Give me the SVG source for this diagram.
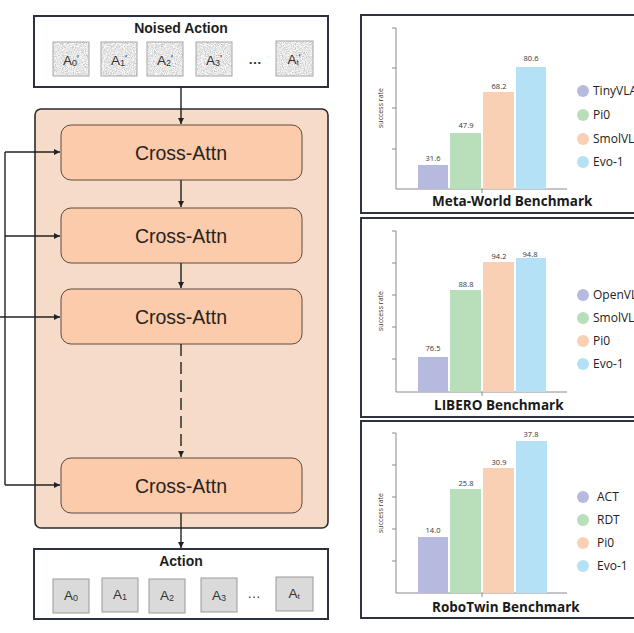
<svg xmlns="http://www.w3.org/2000/svg" width="634" height="633" viewBox="0 0 634 633">
<defs>
<style>
.frame{fill:#fff;stroke:#2b3140;stroke-width:2}
.ttl{font-family:"Liberation Sans",Arial,sans-serif;font-weight:bold;font-size:14px;fill:#1e1e1e;text-anchor:middle}
.tok{font-family:"Liberation Sans",Arial,sans-serif;font-size:13.5px;fill:#333;text-anchor:middle}
.act{fill:#dadada;stroke:#9a9a9a;stroke-width:1}
.ca rect{fill:#fbcbab;stroke:#5e4a3e;stroke-width:1}
.ca text{font-family:"Liberation Sans",Arial,sans-serif;font-size:19.5px;fill:#2a2320;text-anchor:middle}
.ln{stroke:#222;stroke-width:1.4;fill:none}
.panel{fill:#fff;stroke:#2f3340;stroke-width:2}
.ax{stroke:#8a8a8a;stroke-width:1;fill:none}
.val{font-family:"Open Sans","Noto Sans",sans-serif;font-size:7.5px;fill:#333;text-anchor:middle}
.yl{font-family:"Open Sans","Noto Sans",sans-serif;font-size:7px;fill:#333;text-anchor:middle}
.lg{font-family:"Open Sans","Noto Sans",sans-serif;font-size:12px;fill:#222}
.bt{font-family:"Open Sans","Noto Sans",sans-serif;font-weight:bold;font-size:13.5px;fill:#1a1a1a}
.c1{fill:#b6badf}.c2{fill:#b9deba}.c3{fill:#f9d0b4}.c4{fill:#b5e1f7}
</style>
<marker id="ah" viewBox="0 0 10 10" refX="10" refY="5" markerWidth="6" markerHeight="6" markerUnits="userSpaceOnUse" orient="auto">
<path d="M0,0 L10,5 L0,10 z" fill="#222"/>
</marker>
<filter id="noise" x="0" y="0" width="100%" height="100%">
<feTurbulence type="fractalNoise" baseFrequency="1.1" numOctaves="2" seed="3" result="t"/>
<feColorMatrix in="t" type="matrix" values="0.9 0 0 0 0.34  0.9 0 0 0 0.34  0.9 0 0 0 0.34  0 0 0 0 1" result="g"/>
<feComposite in="g" in2="SourceGraphic" operator="in"/>
</filter>
</defs>
<rect width="634" height="633" fill="#fff"/>

<!-- Noised Action -->
<g id="noised-action">
<rect class="frame" x="34" y="16" width="294" height="71"/>
<text class="ttl" x="181" y="33">Noised Action</text>
<g filter="url(#noise)">
<rect x="53" y="42" width="36" height="34" fill="#ccc"/>
<rect x="101" y="42" width="36" height="34" fill="#ccc"/>
<rect x="147" y="42" width="36" height="34" fill="#ccc"/>
<rect x="196" y="42" width="36" height="34" fill="#ccc"/>
<rect x="276" y="41" width="37" height="35" fill="#ccc"/>
</g>
<g fill="none" stroke="#a8a8a8" stroke-width="1">
<rect x="53" y="42" width="36" height="34"/>
<rect x="101" y="42" width="36" height="34"/>
<rect x="147" y="42" width="36" height="34"/>
<rect x="196" y="42" width="36" height="34"/>
<rect x="276" y="41" width="37" height="35"/>
</g>
<text class="tok" x="71" y="65">A<tspan font-size="9" dy="1">0</tspan><tspan font-size="10" dy="-3">'</tspan></text>
<text class="tok" x="119" y="65">A<tspan font-size="9" dy="1">1</tspan><tspan font-size="10" dy="-3">'</tspan></text>
<text class="tok" x="165" y="65">A<tspan font-size="9" dy="1">2</tspan><tspan font-size="10" dy="-3">'</tspan></text>
<text class="tok" x="214" y="65">A<tspan font-size="9" dy="1">3</tspan><tspan font-size="10" dy="-3">'</tspan></text>
<text class="tok" x="255" y="64" font-weight="bold">…</text>
<text class="tok" x="294" y="64">A<tspan font-size="8" dy="1">t</tspan><tspan font-size="10" dy="-3">'</tspan></text>
</g>

<!-- Transformer block -->
<g id="decoder-block">
<rect x="35" y="109" width="293" height="419" rx="6" fill="#f5dbc8" stroke="#2b2b2b" stroke-width="1.6"/>
</g>
<g id="cross-attn-1" class="ca"><rect x="61" y="125" width="241" height="55" rx="10"/><text x="181" y="160">Cross-Attn</text></g>
<g id="cross-attn-2" class="ca"><rect x="61" y="208" width="241" height="55" rx="10"/><text x="181" y="243">Cross-Attn</text></g>
<g id="cross-attn-3" class="ca"><rect x="61" y="289" width="241" height="55" rx="10"/><text x="181" y="324">Cross-Attn</text></g>
<g id="cross-attn-n" class="ca"><rect x="61" y="458" width="241" height="55" rx="10"/><text x="181" y="493">Cross-Attn</text></g>

<!-- Action -->
<g id="action">
<rect class="frame" x="34" y="549" width="294" height="70"/>
<text class="ttl" x="181" y="566">Action</text>
<rect class="act" x="53" y="579" width="36" height="34"/>
<rect class="act" x="102" y="578" width="36" height="34"/>
<rect class="act" x="149" y="579" width="36" height="34"/>
<rect class="act" x="201" y="578" width="36" height="34"/>
<rect class="act" x="276" y="577" width="37" height="34"/>
<text class="tok" x="71" y="600">A<tspan font-size="9" dy="1">0</tspan></text>
<text class="tok" x="120" y="599">A<tspan font-size="9" dy="1">1</tspan></text>
<text class="tok" x="167" y="600">A<tspan font-size="9" dy="1">2</tspan></text>
<text class="tok" x="219" y="600">A<tspan font-size="9" dy="1">3</tspan></text>
<text class="tok" x="254" y="598" font-size="9">…</text>
<text class="tok" x="294" y="598">A<tspan font-size="8" dy="1">t</tspan></text>
</g>

<!-- Connectors -->
<g id="connectors">
<path class="ln" d="M181,87 V124" marker-end="url(#ah)"/>
<path class="ln" d="M181,180 V207" marker-end="url(#ah)"/>
<path class="ln" d="M181,263 V288" marker-end="url(#ah)"/>
<path class="ln" d="M181,344 V457" stroke-dasharray="12,6" marker-end="url(#ah)"/>
<path class="ln" d="M181,513 V548" marker-end="url(#ah)"/>
<path class="ln" d="M5,152 V485"/>
<path class="ln" d="M5,152 H60" marker-end="url(#ah)"/>
<path class="ln" d="M5,236 H60" marker-end="url(#ah)"/>
<path class="ln" d="M0,317 H60" marker-end="url(#ah)"/>
<path class="ln" d="M5,485 H60" marker-end="url(#ah)"/>
</g>

<!-- Meta-World chart -->
<g id="chart-metaworld">
<rect class="panel" x="361" y="15" width="285" height="198"/>
<path class="ax" d="M396,28 V189 H567 M392,28 H396 M392,68 H396 M392,108 H396 M392,149 H396 M482,189 V193"/>
<text class="yl" transform="translate(383,108) rotate(-90)">success rate</text>
<rect class="c1" x="418" y="165" width="30" height="24"/>
<rect class="c2" x="450" y="133" width="31" height="56"/>
<rect class="c3" x="483" y="92" width="31" height="97"/>
<rect class="c4" x="516" y="67" width="30" height="122"/>
<text class="val" x="433" y="161">31.6</text>
<text class="val" x="466" y="128">47.9</text>
<text class="val" x="499" y="89">68.2</text>
<text class="val" x="531" y="61">80.6</text>
<circle class="c1" cx="583" cy="91" r="6"/>
<circle class="c2" cx="583" cy="115" r="6"/>
<circle class="c3" cx="583" cy="139" r="6"/>
<circle class="c4" cx="583" cy="162" r="6"/>
<text class="lg" x="593" y="95">TinyVLA</text>
<text class="lg" x="593" y="119">Pi0</text>
<text class="lg" x="593" y="143">SmolVLA</text>
<text class="lg" x="593" y="166">Evo-1</text>
<text class="bt" x="432" y="206">Meta-World Benchmark</text>
</g>

<!-- LIBERO chart -->
<g id="chart-libero">
<rect class="panel" x="361" y="218" width="285" height="199"/>
<path class="ax" d="M396,231 V392 H567 M392,231 H396 M392,263 H396 M392,295 H396 M392,327 H396 M392,359 H396 M482,392 V396"/>
<text class="yl" transform="translate(383,311) rotate(-90)">success rate</text>
<rect class="c1" x="418" y="357" width="30" height="35"/>
<rect class="c2" x="450" y="290" width="31" height="102"/>
<rect class="c3" x="483" y="262" width="31" height="130"/>
<rect class="c4" x="516" y="258" width="30" height="134"/>
<text class="val" x="433" y="351">76.5</text>
<text class="val" x="466" y="287">88.8</text>
<text class="val" x="499" y="259">94.2</text>
<text class="val" x="530" y="257">94.8</text>
<circle class="c1" cx="583" cy="295" r="6"/>
<circle class="c2" cx="583" cy="318" r="6"/>
<circle class="c3" cx="583" cy="341" r="6"/>
<circle class="c4" cx="583" cy="364" r="6"/>
<text class="lg" x="593" y="299">OpenVLA</text>
<text class="lg" x="593" y="322">SmolVLA</text>
<text class="lg" x="593" y="345">Pi0</text>
<text class="lg" x="593" y="368">Evo-1</text>
<text class="bt" x="434" y="410">LIBERO Benchmark</text>
</g>

<!-- RoboTwin chart -->
<g id="chart-robotwin">
<rect class="panel" x="361" y="421" width="285" height="197"/>
<path class="ax" d="M396,433 V593 H567 M392,433 H396 M392,465 H396 M392,497 H396 M392,529 H396 M392,561 H396 M482,593 V597"/>
<text class="yl" transform="translate(383,513) rotate(-90)">success rate</text>
<rect class="c1" x="418" y="537" width="30" height="56"/>
<rect class="c2" x="450" y="489" width="31" height="104"/>
<rect class="c3" x="483" y="468" width="31" height="125"/>
<rect class="c4" x="516" y="441" width="31" height="152"/>
<text class="val" x="433" y="533">14.0</text>
<text class="val" x="466" y="486">25.8</text>
<text class="val" x="499" y="465">30.9</text>
<text class="val" x="531" y="437">37.8</text>
<circle class="c1" cx="583" cy="497" r="6"/>
<circle class="c2" cx="583" cy="520" r="6"/>
<circle class="c3" cx="583" cy="543" r="6"/>
<circle class="c4" cx="583" cy="566" r="6"/>
<text class="lg" x="597" y="501" font-size="13">ACT</text>
<text class="lg" x="597" y="524" font-size="13">RDT</text>
<text class="lg" x="597" y="547" font-size="13">Pi0</text>
<text class="lg" x="597" y="570" font-size="13">Evo-1</text>
<text class="bt" x="432" y="612">RoboTwin Benchmark</text>
</g>
</svg>
